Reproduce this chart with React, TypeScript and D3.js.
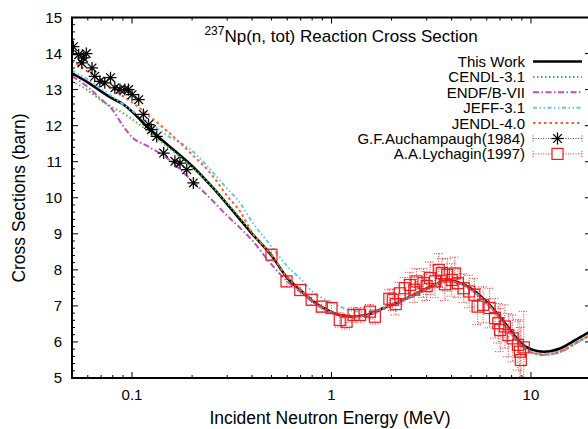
import React from "react";
import * as d3 from "d3";

// ---------- data ----------
const modelEnergy = [0.05, 0.06, 0.07, 0.08, 0.09, 0.1, 0.12, 0.15, 0.2, 0.25, 0.3, 0.35, 0.4, 0.5, 0.6, 0.7, 0.8, 0.9, 1.0, 1.2, 1.5, 1.8, 2.2, 2.7, 3.2, 3.8, 4.5, 5.5, 6.2, 7.2, 8.1, 9.1, 10.2, 11.6, 14, 17, 20];
const thisWork = [13.45, 13.2, 12.95, 12.75, 12.6, 12.39, 11.95, 11.48, 10.88, 10.32, 9.82, 9.38, 9.0, 8.4, 7.78, 7.43, 7.15, 6.96, 6.83, 6.7, 6.75, 6.93, 7.12, 7.36, 7.55, 7.7, 7.62, 7.3, 7.03, 6.61, 6.24, 5.92, 5.78, 5.73, 5.82, 6.08, 6.3];
const cendl = [13.23, 12.98, 12.7, 12.5, 12.35, 12.18, 11.85, 11.42, 10.85, 10.33, 9.85, 9.42, 9.03, 8.42, 7.8, 7.44, 7.16, 6.96, 6.83, 6.7, 6.74, 6.92, 7.11, 7.35, 7.54, 7.69, 7.6, 7.27, 7.0, 6.57, 6.19, 5.87, 5.71, 5.66, 5.74, 6.0, 6.22];
const endf = [13.37, 13.07, 12.73, 12.43, 12.0, 11.68, 11.43, 11.1, 10.47, 9.95, 9.5, 9.15, 8.82, 8.15, 7.68, 7.38, 7.12, 6.93, 6.8, 6.68, 6.72, 6.9, 7.1, 7.33, 7.53, 7.68, 7.6, 7.26, 6.98, 6.55, 6.17, 5.85, 5.69, 5.64, 5.72, 5.98, 6.2];
const jeff = [13.53, 13.28, 13.02, 12.8, 12.6, 12.42, 12.1, 11.73, 11.3, 10.75, 10.25, 9.84, 9.33, 8.65, 8.1, 7.75, 7.4, 7.22, 7.1, 6.9, 6.83, 6.95, 7.15, 7.36, 7.55, 7.68, 7.6, 7.27, 7.0, 6.57, 6.19, 5.87, 5.7, 5.65, 5.73, 5.98, 6.2];
const jendl = [13.79, 13.5, 13.25, 13.02, 12.82, 12.65, 12.3, 11.85, 11.2, 10.65, 10.05, 9.6, 9.03, 8.42, 7.8, 7.45, 7.16, 6.96, 6.83, 6.7, 6.74, 6.92, 7.11, 7.35, 7.54, 7.69, 7.6, 7.27, 7.0, 6.57, 6.19, 5.87, 5.7, 5.65, 5.73, 5.99, 6.2];

const auchEnergy = [0.0508, 0.054, 0.056, 0.057, 0.059, 0.063, 0.065, 0.069, 0.073, 0.078, 0.082, 0.087, 0.092, 0.096, 0.1, 0.108, 0.114, 0.121, 0.125, 0.133, 0.144, 0.164, 0.174, 0.188, 0.203];
const auchValue = [14.19, 13.97, 13.74, 13.88, 14.0, 13.6, 13.37, 13.23, 13.19, 13.33, 13.05, 13.0, 13.0, 13.0, 12.86, 12.72, 12.31, 12.03, 11.89, 11.7, 11.24, 11.01, 10.96, 10.78, 10.41];

const lychEnergy = [0.5, 0.595, 0.697, 0.795, 0.894, 1.0, 1.1, 1.19, 1.29, 1.39, 1.56, 1.65, 1.95, 2.03, 2.1, 2.2, 2.33, 2.47, 2.6, 2.67, 2.89, 3.0, 3.12, 3.3, 3.45, 3.58, 3.7, 3.8, 4.0, 4.15, 4.3, 4.6, 4.9, 5.2, 5.4, 5.76, 6.2, 6.6, 6.86, 7.0, 7.4, 7.7, 8.1, 8.6, 8.8, 8.9, 9.2];
const lychValue = [8.42, 7.68, 7.44, 7.17, 6.98, 6.94, 6.61, 6.56, 6.75, 6.75, 6.84, 6.7, 7.2, 7.17, 7.05, 7.35, 7.49, 7.58, 7.45, 7.68, 7.63, 7.55, 7.77, 7.68, 8.0, 7.91, 7.6, 7.86, 7.72, 7.9, 7.63, 7.49, 7.4, 7.31, 6.98, 7.03, 6.94, 6.66, 6.52, 6.33, 6.43, 6.19, 6.1, 5.92, 5.73, 5.5, 5.85];
const lychError = [0.15, 0.15, 0.15, 0.15, 0.15, 0.15, 0.2, 0.2, 0.2, 0.2, 0.2, 0.2, 0.25, 0.3, 0.3, 0.3, 0.3, 0.35, 0.35, 0.35, 0.4, 0.4, 0.45, 0.45, 0.45, 0.4, 0.45, 0.45, 0.45, 0.45, 0.4, 0.4, 0.45, 0.45, 0.5, 0.5, 0.55, 0.55, 0.55, 0.6, 0.6, 0.6, 0.65, 0.7, 0.85, 0.9, 1.0];

const yTickValues = [5, 6, 7, 8, 9, 10, 11, 12, 13, 14, 15];
const xTickValues = [0.1, 1, 10];
const xTickLabels = ["0.1", "1", "10"];

const seriesNames = ["This Work", "CENDL-3.1", "ENDF/B-VII", "JEFF-3.1", "JENDL-4.0"];
const dataNames = ["G.F.Auchampaugh(1984)", "A.A.Lychagin(1997)"];

const FONT = "'Liberation Sans', Arial, Helvetica, sans-serif";

function Star({ cx, cy, r }: { cx: number; cy: number; r: number }) {
  const d = r * 0.72;
  return (
    <g stroke="#000" strokeWidth={1.25}>
      <line x1={cx - r} y1={cy} x2={cx + r} y2={cy} />
      <line x1={cx} y1={cy - r} x2={cx} y2={cy + r} />
      <line x1={cx - d} y1={cy - d} x2={cx + d} y2={cy + d} />
      <line x1={cx - d} y1={cy + d} x2={cx + d} y2={cy - d} />
      <circle cx={cx} cy={cy} r={1.6} fill="#000" stroke="none" />
    </g>
  );
}

export default function App() {
  const W = 588, H = 429;
  const left = 72, right = 591, top = 17.5, bottom = 378;
  const x = d3.scaleLog().domain([0.05, 20]).range([left, right]);
  const y = d3.scaleLinear().domain([5, 15]).range([bottom, top]);

  const lineGen = d3
    .line<[number, number]>()
    .x((d) => x(d[0]))
    .y((d) => y(d[1]))
    .curve(d3.curveMonotoneX);

  const styles = [
    { color: "#000000", width: 2.6, dash: undefined as string | undefined },
    { color: "#44b83c", width: 2, dash: "1.5,2.5" },
    { color: "#bf4fbf", width: 2, dash: "6,2.5,1.5,2.5" },
    { color: "#62c8e8", width: 2, dash: "4,2.5,1.5,2.5,1.5,2.5" },
    { color: "#ff5a30", width: 2, dash: "2.5,3" },
  ];
  const seriesValues = [thisWork, cendl, endf, jeff, jendl];

  const xMinor: number[] = [];
  [0.01, 0.1, 1, 10].forEach((dec) => {
    for (let k = 2; k <= 9; k++) {
      const v = k * dec;
      if (v >= 0.05 - 1e-9 && v <= 20 + 1e-9) xMinor.push(v);
    }
  });
  const yMinor: number[] = [];
  for (let v = 5; v < 15; v += 1) {
    for (let k = 1; k <= 4; k++) yMinor.push(v + k * 0.2);
  }

  const legendX = 525;
  const sampleX1 = 533, sampleX2 = 582;
  const legendY = (i: number) => 61.5 + i * 15.4;

  return (
    <svg
      width={W}
      height={H}
      viewBox={`0 0 ${W} ${H}`}
      style={{ position: "absolute", left: 0, top: 0, background: "#fff" }}
      fontFamily={FONT}
    >
      <defs>
        <clipPath id="plotClip">
          <rect x={left} y={top} width={right - left} height={bottom - top} />
        </clipPath>
      </defs>
      <rect x={0} y={0} width={W} height={H} fill="#fff" />

      <g stroke="#000" strokeWidth={1}>
        {yTickValues.map((v) => (
          <g key={"yt" + v}>
            <line x1={left} x2={left + 6} y1={y(v)} y2={y(v)} />
            <line x1={right} x2={right - 6} y1={y(v)} y2={y(v)} />
          </g>
        ))}
        {yMinor.map((v, i) => (
          <g key={"ym" + i}>
            <line x1={left} x2={left + 3} y1={y(v)} y2={y(v)} />
            <line x1={right} x2={right - 3} y1={y(v)} y2={y(v)} />
          </g>
        ))}
        {xTickValues.map((v) => (
          <g key={"xt" + v}>
            <line x1={x(v)} x2={x(v)} y1={bottom} y2={bottom - 6} />
            <line x1={x(v)} x2={x(v)} y1={top} y2={top + 6} />
          </g>
        ))}
        {xMinor.map((v, i) => (
          <g key={"xm" + i}>
            <line x1={x(v)} x2={x(v)} y1={bottom} y2={bottom - 3} />
            <line x1={x(v)} x2={x(v)} y1={top} y2={top + 3} />
          </g>
        ))}
      </g>

      <g clipPath="url(#plotClip)" fill="none">
        {seriesValues.map((vals, si) => (
          <path
            key={"s" + si}
            d={lineGen(modelEnergy.map((e, i) => [e, vals[i]] as [number, number])) || ""}
            stroke={styles[si].color}
            strokeWidth={styles[si].width}
            strokeDasharray={styles[si].dash}
            strokeLinejoin="round"
          />
        ))}

        {auchEnergy.map((e, i) => (
          <Star key={"a" + i} cx={x(e)} cy={y(auchValue[i])} r={6} />
        ))}

        {lychEnergy.map((e, i) => {
          const cx = x(e);
          const y1 = y(lychValue[i] + lychError[i]);
          const y2 = y(lychValue[i] - lychError[i]);
          return (
            <g key={"l" + i} stroke="#ff2020" strokeWidth={1} strokeDasharray="1,1.5">
              <line x1={cx} x2={cx} y1={y1} y2={y2} />
              <line x1={cx - 5} x2={cx + 5} y1={y1} y2={y1} />
              <line x1={cx - 5} x2={cx + 5} y1={y2} y2={y2} />
            </g>
          );
        })}
        {lychEnergy.map((e, i) => (
          <rect
            key={"ls" + i}
            x={x(e) - 5.5}
            y={y(lychValue[i]) - 5.5}
            width={11}
            height={11}
            fill="none"
            stroke="#f01818"
            strokeWidth={1.2}
          />
        ))}
      </g>

      <rect x={left} y={top} width={right - left} height={bottom - top} fill="none" stroke="#000" strokeWidth={2} />

      <g fontSize={15} fill="#000">
        {yTickValues.map((v) => (
          <text key={"yl" + v} x={62} y={y(v)} dy="0.36em" textAnchor="end">
            {v}
          </text>
        ))}
        {xTickValues.map((v, i) => (
          <text key={"xl" + v} x={x(v)} y={399.5} textAnchor="middle">
            {xTickLabels[i]}
          </text>
        ))}
      </g>

      <text x={330} y={423.5} fontSize={17.5} textAnchor="middle">
        Incident Neutron Energy (MeV)
      </text>
      <text transform="translate(25,198) rotate(-90)" fontSize={17.5} textAnchor="middle">
        Cross Sections (barn)
      </text>

      <text x={341} y={42} fontSize={17} textAnchor="middle">
        <tspan fontSize={12} dy={-7}>237</tspan>
        <tspan dy={7}>Np(n, tot) Reaction Cross Section</tspan>
      </text>

      <g fontSize={15}>
        {seriesNames.map((n, i) => (
          <g key={"lg" + i}>
            <text x={legendX} y={legendY(i)} dy="0.36em" textAnchor="end">
              {n}
            </text>
            <line
              x1={sampleX1}
              x2={sampleX2}
              y1={legendY(i)}
              y2={legendY(i)}
              stroke={styles[i].color}
              strokeWidth={styles[i].width}
              strokeDasharray={styles[i].dash}
            />
          </g>
        ))}
        {dataNames.map((n, j) => {
          const i = j + 5;
          const ly = legendY(i);
          const col = j === 0 ? "#555" : "#ff2020";
          const mid = (sampleX1 + sampleX2) / 2;
          return (
            <g key={"ld" + j}>
              <text x={legendX} y={ly} dy="0.36em" textAnchor="end">
                {n}
              </text>
              <g stroke={col} strokeWidth={1} strokeDasharray="1,1.5">
                <line x1={sampleX1} x2={sampleX2} y1={ly} y2={ly} />
                <line x1={sampleX1} x2={sampleX1} y1={ly - 3} y2={ly + 3} />
                <line x1={sampleX2} x2={sampleX2} y1={ly - 3} y2={ly + 3} />
              </g>
              {j === 0 ? (
                <Star cx={mid} cy={ly} r={6} />
              ) : (
                <rect x={mid - 5.5} y={ly - 5.5} width={11} height={11} fill="#fff" stroke="#f01818" strokeWidth={1.2} />
              )}
            </g>
          );
        })}
      </g>
    </svg>
  );
}
